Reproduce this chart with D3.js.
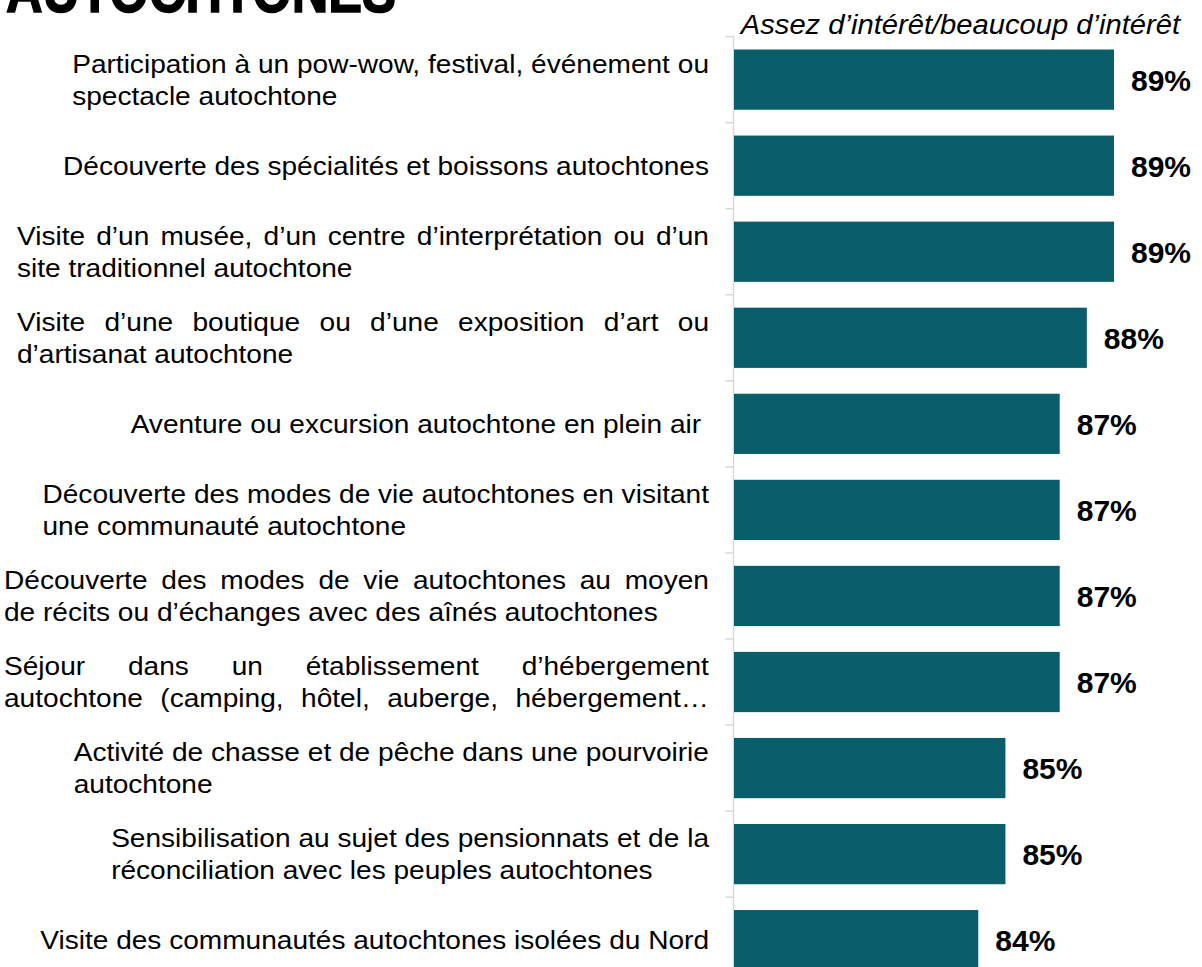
<!DOCTYPE html>
<html>
<head>
<meta charset="utf-8">
<script src="https://cdn.jsdelivr.net/npm/d3@7"></script>
<style>
  html, body { margin: 0; padding: 0; background: #fff; }
  svg { display: block; }
  text { font-family: "Liberation Sans", Arial, sans-serif; white-space: pre; }
</style>
</head>
<body>
<svg id="chart" width="1202" height="967"></svg>
<script>
// ---------- data ----------
const title = "AUTOCHTONES";
const subtitle = "Assez d’intérêt/beaucoup d’intérêt";
const categories = [
  "Participation à un pow-wow, festival, événement ou\nspectacle autochtone",
  "Découverte des spécialités et boissons autochtones",
  "Visite d’un musée, d’un centre d’interprétation ou d’un\nsite traditionnel autochtone",
  "Visite d’une boutique ou d’une exposition d’art ou\nd’artisanat autochtone",
  "Aventure ou excursion autochtone en plein air ",
  "Découverte des modes de vie autochtones en visitant\nune communauté autochtone",
  "Découverte des modes de vie autochtones au moyen\nde récits ou d’échanges avec des aînés autochtones",
  "Séjour dans un établissement d’hébergement\nautochtone (camping, hôtel, auberge, hébergement…",
  "Activité de chasse et de pêche dans une pourvoirie\nautochtone",
  "Sensibilisation au sujet des pensionnats et de la\nréconciliation avec les peuples autochtones",
  "Visite des communautés autochtones isolées du Nord"
];
const values = [89, 89, 89, 88, 87, 87, 87, 87, 85, 85, 84];

// ---------- layout ----------
const svg = d3.select("#chart");
const barColor = "#0a5d6b";
const axisX = 733.5;
const labelRight = 709;
const sx = 1.08;           // horizontal stretch of the label text
const labelFont = 26;
const lineH = 32;
// text box widths (px) of the justified category labels
const boxWidths = [635, 0, 692, 692, 0, 662, 705, 705, 633, 594, 0];

const x = d3.scaleLinear().domain([75, 89]).range([734, 1114]);
const y = d3.scaleBand().domain(categories).range([36.6, 983.2])
  .paddingInner(0.3).paddingOuter(0.15);

// title (cut off by the top edge, as in the reference)
svg.append("text")
  .attr("x", 6).attr("y", 12)
  .attr("textLength", 390).attr("lengthAdjust", "spacingAndGlyphs")
  .style("font-family", "'Liberation Sans Narrow', 'Liberation Sans', Arial, sans-serif")
  .style("font-weight", "bold").style("font-size", "62px")
  .attr("fill", "#000").attr("stroke", "#000").attr("stroke-width", 1.5)
  .text(title);

// subtitle
svg.append("text")
  .attr("transform", `translate(1180,34) scale(${sx},1)`)
  .attr("text-anchor", "end")
  .style("font-style", "italic").style("font-size", "27px")
  .attr("fill", "#000").text(subtitle);

// axis with ticks between categories
const step = y.step();
const boundaries = d3.range(categories.length + 1).map(i => y.range()[0] + i * step);
svg.append("line")
  .attr("x1", axisX).attr("x2", axisX)
  .attr("y1", boundaries[0]).attr("y2", 967)
  .attr("stroke", "#d9d9d9").attr("stroke-width", 1.5);
svg.selectAll("line.tick").data(boundaries).join("line")
  .attr("class", "tick")
  .attr("x1", axisX - 8).attr("x2", axisX)
  .attr("y1", d => d).attr("y2", d => d)
  .attr("stroke", "#d9d9d9").attr("stroke-width", 1.5);

// bars
svg.selectAll("rect.bar").data(values).join("rect")
  .attr("class", "bar")
  .attr("x", x(75))
  .attr("y", (d, i) => y(categories[i]))
  .attr("width", d => x(d) - x(75))
  .attr("height", y.bandwidth())
  .attr("fill", barColor);

// value labels
svg.selectAll("text.val").data(values).join("text")
  .attr("class", "val")
  .attr("x", d => x(d) + 17)
  .attr("y", (d, i) => y(categories[i]) + y.bandwidth() / 2 + 11)
  .style("font-weight", "bold").style("font-size", "30px")
  .attr("fill", "#000")
  .text(d => d + "%");

// category labels (justified blocks, right aligned)
const measurer = svg.append("text").style("font-size", labelFont + "px").attr("opacity", 0);
function w(s) { measurer.text(s); return measurer.node().getComputedTextLength(); }

categories.forEach((cat, i) => {
  const lines = cat.split("\n");
  const natural = lines.map(l => w(l.replace(/\s+$/, "")));
  const W = Math.max(d3.max(natural), boxWidths[i] / sx);
  const cy = y(cat) + y.bandwidth() / 2;
  const g = svg.append("g")
    .attr("transform", `translate(${labelRight},0) scale(${sx},1)`);
  lines.forEach((line, j) => {
    const base = cy + 9 + (j - (lines.length - 1) / 2) * lineH;
    const justify = lines.length > 1 && (j < lines.length - 1 || /…$/.test(line));
    const t = g.append("text").attr("y", base)
      .style("font-size", labelFont + "px").attr("fill", "#000");
    if (lines.length === 1) {
      t.attr("x", 0).attr("text-anchor", "end").text(line);
    } else if (!justify) {
      t.attr("x", -W).text(line);
    } else {
      const words = line.split(" ");
      const ww = words.map(wd => w(wd));
      const gap = (W - d3.sum(ww)) / (words.length - 1);
      let cx = -W;
      words.forEach((wd, k) => {
        t.append("tspan").attr("x", cx).text(wd);
        cx += ww[k] + gap;
      });
    }
  });
});
measurer.remove();
</script>
</body>
</html>
